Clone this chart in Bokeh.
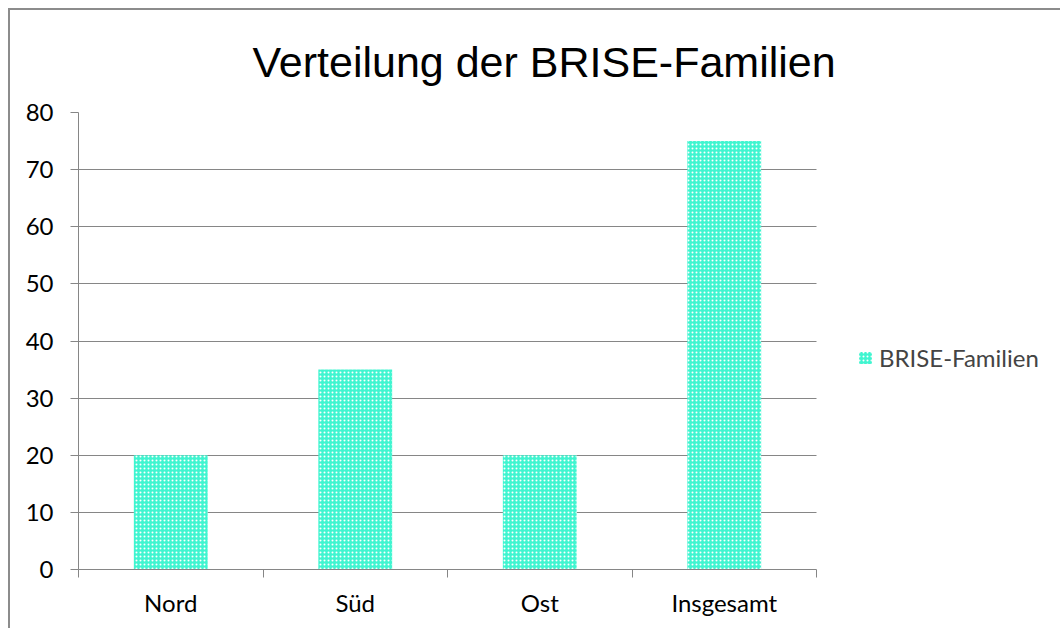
from bokeh.plotting import figure
from bokeh.models import FixedTicker, Legend, LegendItem, Range1d, ColumnDataSource, BoxAnnotation
from bokeh.embed import file_html
from bokeh.resources import INLINE
import numpy as np

categories = ["Nord", "Süd", "Ost", "Insgesamt"]
values = [20, 35, 20, 75]
series_name = "BRISE-Familien"
y_ticks = [0, 10, 20, 30, 40, 50, 60, 70, 80]

n = len(categories)
xpos = np.arange(n) + 0.5
src = ColumnDataSource(dict(x=xpos, top=values, cat=categories))

GRAY = "#868686"
TURQ = "#40F5D0"

W, H = 1052, 620
LEFT = 68
PLOT_W = 738  # width of the category area in pixels
frame_w = W - LEFT
x_end = n * frame_w / PLOT_W

p = figure(width=W, height=H, output_backend="svg", toolbar_location=None,
           x_range=Range1d(0, x_end), y_range=Range1d(0, 80),
           min_border_left=LEFT, min_border_right=0, min_border_top=102, min_border_bottom=61)
p.title.text = "Verteilung der BRISE-Familien"
p.title.text_font = "Liberation Sans"
p.title.text_font_size = "43px"
p.title.text_font_style = "normal"
p.title.text_color = "#000000"
p.title.align = "left"
p.title.offset = 174
p.title.vertical_align = "top"
p.title.standoff = 49
p.outline_line_color = None
p.styles = {"margin-left": "8px", "margin-top": "8px",
            "border-top": "2px solid #8c8c8c", "border-left": "2px solid #8c8c8c"}

r = p.vbar(x="x", top="top", width=0.4, source=src, fill_color=TURQ, line_color=None,
           hatch_pattern="dot", hatch_color="white", hatch_scale=4, hatch_weight=1)

# white cover so grid lines stop at the end of the category area
p.add_layout(BoxAnnotation(left=n, fill_color="white", fill_alpha=1, line_color=None, level="underlay"))

# x axis
p.xaxis.bounds = (0, n)
p.xaxis.ticker = FixedTicker(ticks=list(xpos), minor_ticks=list(range(n + 1)))
p.xaxis.major_label_overrides = {float(x): c for x, c in zip(xpos, categories)}
p.xaxis.major_tick_line_color = None
p.xaxis.major_tick_out = 0
p.xaxis.major_tick_in = 0
p.xaxis.minor_tick_line_color = GRAY
p.xaxis.minor_tick_out = 8
p.xaxis.minor_tick_in = 0
p.xaxis.axis_line_color = GRAY
p.xaxis.major_label_standoff = 10
p.xaxis.major_label_text_font = "Lato"
p.xaxis.major_label_text_font_size = "24px"
p.xaxis.major_label_text_color = "#000000"

# y axis
p.yaxis.ticker = FixedTicker(ticks=y_ticks)
p.yaxis.minor_tick_line_color = None
p.yaxis.major_tick_line_color = GRAY
p.yaxis.major_tick_out = 8
p.yaxis.major_tick_in = 0
p.yaxis.axis_line_color = GRAY
p.yaxis.major_label_standoff = 17
p.yaxis.major_label_text_font = "Lato"
p.yaxis.major_label_text_font_size = "24px"
p.yaxis.major_label_text_color = "#000000"

p.xgrid.grid_line_color = None
p.ygrid.grid_line_color = GRAY
p.ygrid.ticker = FixedTicker(ticks=y_ticks)

legend = Legend(items=[LegendItem(label=series_name, renderers=[r])], location=(779, 197),
                border_line_color=None, background_fill_alpha=0, padding=0, margin=0,
                glyph_width=16, glyph_height=15, label_standoff=6, label_height=24,
                label_text_font="Lato", label_text_font_size="24px")
p.add_layout(legend, "center")

open("out.html", "w").write(file_html(p, INLINE))
